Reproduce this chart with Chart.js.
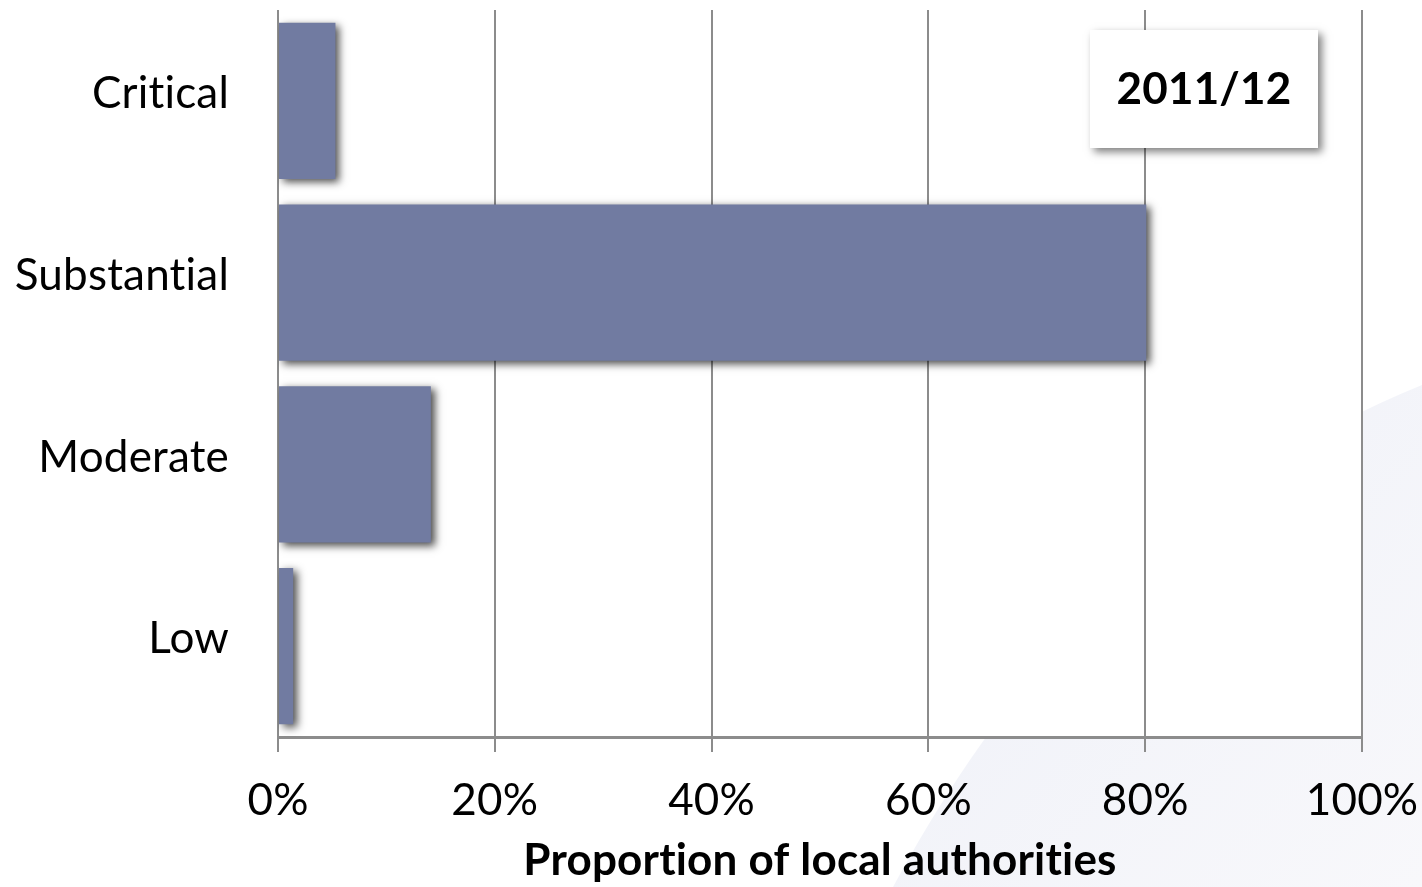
<!DOCTYPE html>
<html>
<head>
<meta charset="utf-8">
<script src="https://cdn.jsdelivr.net/npm/chart.js@4/dist/chart.umd.min.js"></script>
<style>
  html, body { margin: 0; padding: 0; background: #ffffff; }
  #wrap { width: 1422px; height: 887px; }
</style>
</head>
<body>
<div id="wrap"><canvas id="c" width="1422" height="887"></canvas></div>
<script>
const categories = ['Critical', 'Substantial', 'Moderate', 'Low'];
const values = [5.3, 80.1, 14.1, 1.4];
const xTickValues = [0, 20, 40, 60, 80, 100];
const axisTitle = 'Proportion of local authorities';
const yearLabel = '2011/12';

const FONT = "Lato, 'Open Sans', sans-serif";

const backgroundPlugin = {
  id: 'bg',
  beforeDraw(chart) {
    const ctx = chart.ctx;
    try { ctx.letterSpacing = '0.2px'; } catch (e) {}
    const W = chart.width, H = chart.height;
    ctx.save();
    ctx.fillStyle = '#ffffff';
    ctx.fillRect(0, 0, W, H);
    const g = ctx.createLinearGradient(950, 450, 1422, 887);
    g.addColorStop(0, '#eff1f8');
    g.addColorStop(1, '#f8f8fb');
    ctx.fillStyle = g;
    ctx.beginPath();
    ctx.moveTo(1422, 385);
    ctx.quadraticCurveTo(1090, 520, 893, 887);
    ctx.lineTo(1422, 887);
    ctx.closePath();
    ctx.fill();
    const a = chart.chartArea;
    ctx.fillStyle = '#ffffff';
    ctx.fillRect(a.left, a.top, a.right - a.left, a.bottom - a.top);
    ctx.restore();
  }
};

const shadowPlugin = {
  id: 'barShadow',
  beforeDatasetsDraw(chart) {
    const ctx = chart.ctx;
    ctx.save();
    ctx.shadowColor = 'rgba(0,0,0,0.7)';
    ctx.shadowBlur = 8;
    ctx.shadowOffsetX = 4;
    ctx.shadowOffsetY = 3;
  },
  afterDatasetsDraw(chart) {
    chart.ctx.restore();
  }
};

const boxPlugin = {
  id: 'yearBox',
  afterDraw(chart) {
    const ctx = chart.ctx;
    const x = 1090, y = 30, w = 228, h = 118;
    ctx.save();
    ctx.shadowColor = 'rgba(0,0,0,0.5)';
    ctx.shadowBlur = 8;
    ctx.shadowOffsetX = 4;
    ctx.shadowOffsetY = 4;
    ctx.fillStyle = '#ffffff';
    ctx.fillRect(x, y, w, h);
    ctx.restore();
    ctx.save();
    ctx.fillStyle = '#000000';
    ctx.font = "bold 44px " + FONT;
    ctx.textAlign = 'center';
    ctx.textBaseline = 'middle';
    ctx.fillText(yearLabel, x + w / 2, y + h / 2 + 1);
    ctx.restore();
  }
};

new Chart(document.getElementById('c'), {
  type: 'bar',
  data: {
    labels: categories,
    datasets: [{
      data: values,
      backgroundColor: '#717ba1',
      borderWidth: 0,
      barPercentage: 0.86,
      categoryPercentage: 1.0
    }]
  },
  options: {
    indexAxis: 'y',
    responsive: false,
    animation: false,
    events: [],
    layout: { padding: { top: 10, right: 60, left: 0, bottom: 0 } },
    plugins: {
      legend: { display: false },
      tooltip: { enabled: false },
      title: { display: false }
    },
    scales: {
      x: {
        type: 'linear',
        min: 0,
        max: 100,
        afterBuildTicks(scale) {
          scale.ticks = xTickValues.map(v => ({ value: v }));
        },
        afterFit(scale) {
          scale.height = 150;
          scale.paddingLeft = 0; scale.paddingRight = 0;
        },
        ticks: {
          callback: v => v + '%',
          color: '#000000',
          font: { family: FONT, size: 44 },
          padding: 22,
          maxRotation: 0
        },
        grid: {
          color: '#8c8c8c',
          lineWidth: 2,
          tickLength: 15,
          drawTicks: true
        },
        border: { color: '#8c8c8c', width: 3 },
        title: {
          display: true,
          text: axisTitle,
          color: '#000000',
          font: { family: FONT, size: 44, weight: 'bold' },
          padding: { top: 0, bottom: 0 }
        }
      },
      y: {
        afterFit(scale) {
          scale.width = 278;
          scale.paddingTop = 0; scale.paddingBottom = 0;
        },
        ticks: {
          color: '#000000',
          font: { family: FONT, size: 44 },
          padding: 49,
          labelOffset: -7
        },
        grid: { display: false, drawTicks: false },
        border: { display: false }
      }
    }
  },
  plugins: [backgroundPlugin, shadowPlugin, boxPlugin]
});
</script>
</body>
</html>
